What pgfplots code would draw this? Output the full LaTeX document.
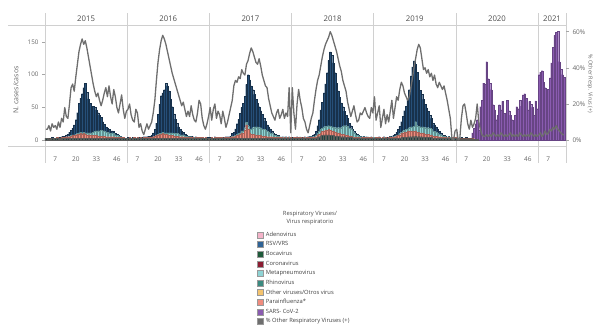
\documentclass[border=0pt]{standalone}
\usepackage{pgfplots}
\pgfplotsset{compat=1.18}
\usepackage{pgfplotstable}
\usepackage{fontspec}
\setmainfont{Open Sans}
\pgfplotsset{/pgf/number format/assume math mode=true}
\definecolor{cAdeno}{HTML}{F4B3C9}
\definecolor{cRSV}{HTML}{2F6396}
\definecolor{cBoca}{HTML}{1E5A3A}
\definecolor{cCorona}{HTML}{8C1C31}
\definecolor{cMeta}{HTML}{8ED3D4}
\definecolor{cRhino}{HTML}{3A8A80}
\definecolor{cOther}{HTML}{F4C36E}
\definecolor{cPara}{HTML}{F08C7E}
\definecolor{cSars}{HTML}{8A5BB0}
\definecolor{cLine}{HTML}{6E6E6E}
\definecolor{cGrid}{HTML}{D0D0D0}
\pgfplotsset{sqleg/.style={legend image code/.code={\draw[##1] (0bp,-3bp) rectangle (6bp,3bp);}}}

\pgfplotstableread{
yr wk rhino para meta rsv sars pct
2015 1 3 0 0 0 0 6
2015 2 3 0 0 0 0 6
2015 3 2 1 0 0 0 8
2015 4 3 0 0 0 0 5
2015 5 3 0 0 1 0 9
2015 6 2 1 0 0 0 7
2015 7 3 0 0 0 0 8
2015 8 3 1 0 0 0 6
2015 9 3 0 0 1 0 10
2015 10 2 1 0 1 0 7
2015 11 3 1 0 1 0 12
2015 12 3 1 0 2 0 10
2015 13 3 1 0 2 0 18
2015 14 3 2 0 3 0 13
2015 15 3 2 0 4 0 12
2015 16 3 2 1 6 0 20
2015 17 3 3 1 8 0 29
2015 18 3 4 1 10 0 31
2015 19 3 4 1 15 0 27
2015 20 3 5 1 22 0 35
2015 21 3 6 1 32 0 42
2015 22 3 6 2 45 0 49
2015 23 3 7 2 52 0 53
2015 24 3 6 2 60 0 56
2015 25 3 7 2 68 0 53
2015 26 3 6 2 76 0 55
2015 27 3 5 3 62 0 51
2015 28 3 5 3 52 0 46
2015 29 3 5 3 45 0 41
2015 30 3 4 4 40 0 36
2015 31 3 4 5 40 0 31
2015 32 3 4 6 37 0 27
2015 33 3 4 7 32 0 24
2015 34 3 3 8 28 0 26
2015 35 3 3 8 24 0 22
2015 36 3 3 9 20 0 19
2015 37 3 3 8 14 0 22
2015 38 3 3 8 10 0 26
2015 39 3 2 7 8 0 29
2015 40 3 2 7 6 0 24
2015 41 3 2 6 5 0 30
2015 42 3 2 5 4 0 24
2015 43 3 2 6 3 0 20
2015 44 3 2 5 3 0 28
2015 45 3 1 4 2 0 24
2015 46 3 1 3 2 0 18
2015 47 3 1 2 1 0 15
2015 48 3 1 1 1 0 20
2015 49 3 1 1 0 0 25
2015 50 3 1 0 0 0 17
2015 51 3 0 0 0 0 12
2015 52 3 0 0 0 0 16
2016 1 3 0 0 1 0 17
2016 2 3 1 0 0 0 20
2016 3 3 0 0 0 0 14
2016 4 3 0 0 1 0 11
2016 5 3 1 0 0 0 10
2016 6 3 0 0 0 0 17
2016 7 3 1 0 0 0 15
2016 8 3 0 0 1 0 7
2016 9 3 1 0 0 0 9
2016 10 3 0 0 1 0 5
2016 11 3 1 0 1 0 3
2016 12 3 1 0 1 0 6
2016 13 3 1 0 1 0 9
2016 14 3 1 0 2 0 6
2016 15 3 1 0 2 0 8
2016 16 3 1 0 3 0 10
2016 17 3 2 0 6 0 15
2016 18 3 3 0 10 0 22
2016 19 3 4 1 18 0 33
2016 20 3 5 1 30 0 43
2016 21 3 6 1 45 0 50
2016 22 3 6 1 58 0 55
2016 23 3 7 2 60 0 58
2016 24 3 6 2 66 0 56
2016 25 3 6 2 76 0 53
2016 26 3 5 3 72 0 49
2016 27 3 5 3 64 0 45
2016 28 3 4 4 52 0 41
2016 29 3 4 4 40 0 37
2016 30 3 3 4 30 0 34
2016 31 3 3 4 22 0 31
2016 32 3 3 4 16 0 28
2016 33 3 2 4 11 0 25
2016 34 3 2 3 8 0 22
2016 35 3 2 3 6 0 19
2016 36 3 2 3 4 0 21
2016 37 3 1 2 3 0 17
2016 38 3 1 2 2 0 13
2016 39 3 1 1 1 0 16
2016 40 3 1 1 1 0 13
2016 41 3 1 1 1 0 19
2016 42 3 1 0 1 0 14
2016 43 3 0 1 0 0 11
2016 44 3 1 0 1 0 10
2016 45 3 0 1 0 0 15
2016 46 3 1 0 0 0 22
2016 47 3 0 0 1 0 20
2016 48 3 1 0 0 0 12
2016 49 3 0 0 0 0 8
2016 50 3 1 0 0 0 6
2016 51 3 0 0 1 0 9
2016 52 3 0 0 0 0 13
2017 1 3 0 0 1 0 18
2017 2 3 1 0 0 0 11
2017 3 3 0 0 0 0 17
2017 4 3 1 0 1 0 20
2017 5 3 0 0 0 0 12
2017 6 3 1 0 0 0 16
2017 7 3 0 0 1 0 14
2017 8 3 1 0 0 0 9
2017 9 3 0 0 1 0 16
2017 10 3 1 0 0 0 12
2017 11 3 1 0 1 0 7
2017 12 3 1 0 1 0 10
2017 13 3 1 0 1 0 14
2017 14 3 1 0 2 0 18
2017 15 3 2 1 4 0 22
2017 16 3 2 1 6 0 30
2017 17 3 3 1 10 0 33
2017 18 3 4 2 16 0 32
2017 19 3 5 2 22 0 35
2017 20 3 6 2 30 0 34
2017 21 3 8 3 36 0 39
2017 22 3 8 3 42 0 37
2017 23 3 12 4 48 0 36
2017 24 3 20 4 58 0 42
2017 25 3 14 5 78 0 44
2017 26 3 8 6 75 0 48
2017 27 3 6 8 66 0 51
2017 28 3 6 10 58 0 49
2017 29 3 5 12 50 0 46
2017 30 3 5 12 42 0 43
2017 31 3 4 13 36 0 42
2017 32 3 4 12 32 0 45
2017 33 3 4 12 26 0 41
2017 34 3 3 11 22 0 36
2017 35 3 3 10 18 0 33
2017 36 3 3 9 14 0 30
2017 37 3 2 8 10 0 29
2017 38 3 2 7 8 0 23
2017 39 3 2 6 6 0 19
2017 40 3 2 5 4 0 15
2017 41 3 1 4 3 0 13
2017 42 3 1 3 2 0 11
2017 43 3 1 2 2 0 15
2017 44 3 1 2 1 0 17
2017 45 3 0 1 1 0 12
2017 46 3 1 1 0 0 14
2017 47 3 0 1 1 0 17
2017 48 3 1 1 0 0 12
2017 49 3 0 1 1 0 15
2017 50 3 1 0 0 0 13
2017 51 3 0 1 1 0 29
2017 52 3 1 0 0 0 4
2018 1 3 0 0 1 0 29
2018 2 3 1 0 0 0 15
2018 3 3 0 1 0 0 6
2018 4 3 1 0 1 0 20
2018 5 3 0 0 0 0 28
2018 6 3 1 1 0 0 22
2018 7 3 0 0 1 0 18
2018 8 3 1 0 0 0 12
2018 9 3 0 1 1 0 10
2018 10 3 1 0 0 0 6
2018 11 3 1 0 1 0 4
2018 12 3 1 1 1 0 8
2018 13 3 1 1 1 0 12
2018 14 3 1 1 2 0 15
2018 15 3 1 1 4 0 22
2018 16 3 2 2 6 0 28
2018 17 4 3 3 12 0 33
2018 18 5 4 4 18 0 36
2018 19 6 5 5 30 0 41
2018 20 7 6 5 40 0 46
2018 21 8 6 6 52 0 50
2018 22 8 7 6 65 0 53
2018 23 8 7 6 82 0 55
2018 24 8 8 6 100 0 57
2018 25 7 8 6 114 0 60
2018 26 7 7 6 110 0 58
2018 27 7 6 7 98 0 55
2018 28 6 6 7 84 0 52
2018 29 6 5 8 68 0 49
2018 30 6 5 8 56 0 45
2018 31 5 5 9 46 0 41
2018 32 5 4 10 38 0 38
2018 33 5 4 12 30 0 33
2018 34 5 3 14 22 0 30
2018 35 4 3 15 16 0 27
2018 36 4 3 14 12 0 21
2018 37 4 2 12 8 0 17
2018 38 4 2 10 6 0 13
2018 39 3 2 8 4 0 16
2018 40 3 1 6 3 0 19
2018 41 3 1 4 2 0 14
2018 42 3 1 3 2 0 10
2018 43 3 1 2 1 0 11
2018 44 3 0 2 1 0 15
2018 45 3 1 1 0 0 14
2018 46 3 0 2 1 0 16
2018 47 3 1 1 0 0 18
2018 48 3 0 1 1 0 15
2018 49 3 1 1 0 0 13
2018 50 3 0 1 0 0 12
2018 51 3 1 0 1 0 18
2018 52 3 0 1 0 0 15
2019 1 3 0 0 1 0 24
2019 2 3 1 0 0 0 11
2019 3 3 0 1 0 0 15
2019 4 3 1 0 1 0 19
2019 5 3 0 0 0 0 7
2019 6 3 1 0 0 0 12
2019 7 3 0 1 1 0 17
2019 8 3 1 0 0 0 9
2019 9 3 0 0 1 0 14
2019 10 3 1 0 0 0 10
2019 11 3 1 1 1 0 16
2019 12 3 1 0 1 0 22
2019 13 3 1 1 2 0 12
2019 14 3 2 1 3 0 18
2019 15 3 3 1 5 0 24
2019 16 3 4 1 8 0 22
2019 17 3 5 2 11 0 28
2019 18 4 6 2 16 0 32
2019 19 4 7 3 22 0 30
2019 20 4 8 3 30 0 26
2019 21 4 8 4 36 0 24
2019 22 4 9 4 45 0 22
2019 23 5 9 5 58 0 24
2019 24 5 9 6 78 0 29
2019 25 5 8 7 92 0 34
2019 26 5 8 8 100 0 40
2019 27 6 8 14 88 0 45
2019 28 5 7 10 82 0 50
2019 29 5 7 9 70 0 53
2019 30 5 6 9 56 0 51
2019 31 5 6 9 50 0 45
2019 32 4 6 10 42 0 39
2019 33 4 5 10 36 0 40
2019 34 4 5 10 30 0 37
2019 35 4 5 10 25 0 39
2019 36 4 4 10 20 0 35
2019 37 4 4 9 16 0 37
2019 38 3 3 8 12 0 33
2019 39 3 3 7 10 0 36
2019 40 3 3 6 8 0 31
2019 41 3 2 5 6 0 29
2019 42 3 2 4 4 0 32
2019 43 3 2 3 3 0 30
2019 44 3 1 2 2 0 28
2019 45 3 1 2 1 0 30
2019 46 3 1 1 1 0 26
2019 47 3 0 1 0 0 22
2019 48 3 1 1 1 0 17
2019 49 3 0 1 0 0 12
2019 50 3 1 0 0 0 1
2019 51 3 0 1 0 0 0
2019 52 3 1 0 0 0 5
2020 1 2 1 0 0 0 6
2020 2 2 1 0 0 0 0
2020 3 2 1 0 0 0 1
2020 4 2 1 0 1 0 12
2020 5 2 1 0 0 0 19
2020 6 2 1 0 0 0 20
2020 7 2 1 0 1 0 15
2020 8 2 1 0 0 0 9
2020 9 2 1 0 0 0 6
2020 10 2 1 0 0 0 11
2020 11 2 1 0 0 8 7
2020 12 1 1 0 0 16 9
2020 13 1 0 0 0 24 12
2020 14 1 0 0 0 30 20
2020 15 0 0 0 0 15 10
2020 16 0 0 0 0 51 6
2020 17 0 0 0 0 61 3
2020 18 0 0 0 0 87 2
2020 19 0 0 0 0 85 2
2020 20 0 0 0 0 120 3
2020 21 0 0 0 0 94 2
2020 22 0 0 0 0 87 3
2020 23 0 0 0 0 77 2
2020 24 0 0 0 0 54 4
2020 25 0 0 0 0 46 3
2020 26 0 0 0 0 31 2
2020 27 0 0 0 0 38 3
2020 28 0 0 0 0 54 2
2020 29 0 0 0 0 46 4
2020 30 0 0 0 0 59 3
2020 31 0 0 0 0 41 2
2020 32 0 0 0 0 36 3
2020 33 0 0 0 0 61 2
2020 34 0 0 0 0 45 3
2020 35 0 0 0 0 38 4
2020 36 0 0 0 0 31 2
2020 37 0 0 0 0 26 3
2020 38 0 0 0 0 38 2
2020 39 0 0 0 0 51 3
2020 40 0 0 0 0 48 2
2020 41 0 0 0 0 61 4
2020 42 0 0 0 0 52 3
2020 43 0 0 0 0 69 2
2020 44 0 0 0 0 71 3
2020 45 0 0 0 0 64 2
2020 46 0 0 0 0 46 3
2020 47 0 0 0 0 59 2
2020 48 0 0 0 0 55 4
2020 49 0 0 0 0 50 3
2020 50 0 0 0 0 38 2
2020 51 0 0 0 0 60 3
2020 52 0 0 0 0 48 2
2021 1 0 0 0 0 100 3
2021 2 0 0 0 0 104 4
2021 3 0 0 0 0 106 2
2021 4 0 0 0 0 88 3
2021 5 0 0 0 0 80 5
2021 6 0 0 0 0 62 3
2021 7 0 0 0 0 78 4
2021 8 0 0 0 0 95 6
2021 9 0 0 0 0 118 5
2021 10 0 0 0 0 142 7
2021 11 0 0 0 0 160 6
2021 12 0 0 0 0 165 8
2021 13 0 0 0 0 166 6
2021 14 0 0 0 0 120 5
2021 15 0 0 0 0 108 4
2021 16 0 0 0 0 100 3
2021 17 0 0 0 0 96 3
}\data

\begin{document}
\begin{tikzpicture}[x=1bp,y=1bp]
\path[use as bounding box] (-45,-178) rectangle (550,146);
\begin{axis}[
  at={(0,0)}, anchor=south west, scale only axis,
  width=521bp, height=121bp,
  xmin=0, xmax=329.7, ymin=-9.2, ymax=176,
  clip=false,
  ybar stacked, bar width=1.58bp,
  axis line style={draw=none},
  xtick={6.5,19.5,32.5,45.5,58.5,71.5,84.5,97.5,110.5,123.5,136.5,149.5,162.5,175.5,188.5,201.5,214.5,227.5,240.5,253.5,266.5,279.5,292.5,305.5,318.5},
  xticklabels={7,20,33,46,7,20,33,46,7,20,33,46,7,20,33,46,7,20,33,46,7,20,33,46,7},
  xtick style={draw=none},
  xticklabel style={font=\fontsize{6.5}{7}\selectfont, text=black!60, yshift=-4bp},
  ytick={0,50,100,150},
  ytick pos=left,
  ytick style={draw=black!35, line width=0.5bp},
  major tick length=3bp, tick align=outside,
  yticklabel style={font=\fontsize{6.3}{7}\selectfont, text=black!60},
  legend style={at={(0.401,-0.678)}, anchor=north west, draw=none, fill=none,
    font=\fontsize{5.8}{6}\selectfont, text=black!75, row sep=0pt, column sep=1bp,
    nodes={inner ysep=0pt, inner xsep=1.5bp, minimum height=9.6bp}},
  legend cell align=left,
]
\addlegendimage{sqleg, fill=cAdeno, draw=black!40, line width=0.3bp}
\addlegendentry{Adenovirus}
\addlegendimage{sqleg, fill=cRSV, draw=black!40, line width=0.3bp}
\addlegendentry{RSV/VRS}
\addlegendimage{sqleg, fill=cBoca, draw=black!40, line width=0.3bp}
\addlegendentry{Bocavirus}
\addlegendimage{sqleg, fill=cCorona, draw=black!40, line width=0.3bp}
\addlegendentry{Coronavirus}
\addlegendimage{sqleg, fill=cMeta, draw=black!40, line width=0.3bp}
\addlegendentry{Metapneumovirus}
\addlegendimage{sqleg, fill=cRhino, draw=black!40, line width=0.3bp}
\addlegendentry{Rhinovirus}
\addlegendimage{sqleg, fill=cOther, draw=black!40, line width=0.3bp}
\addlegendentry{Other viruses/Otros virus}
\addlegendimage{sqleg, fill=cPara, draw=black!40, line width=0.3bp}
\addlegendentry{Parainfluenza*}
\addlegendimage{sqleg, fill=cSars, draw=black!40, line width=0.3bp}
\addlegendentry{SARS- CoV-2}
\addlegendimage{sqleg, fill=cLine, draw=black!40, line width=0.3bp}
\addlegendentry{\% Other Respiratory Viruses (+)}

\addplot[forget plot, fill=cRhino!50!black, draw=black!65, line width=0.1bp] table[x expr=52*(\thisrow{yr}-2015)+\thisrow{wk}-0.5, y=rhino]{\data};
\addplot[forget plot, fill=cPara, draw=cPara!70!black, line width=0.1bp] table[x expr=52*(\thisrow{yr}-2015)+\thisrow{wk}-0.5, y=para]{\data};
\addplot[forget plot, fill=cMeta, draw=cMeta!70!black, line width=0.1bp] table[x expr=52*(\thisrow{yr}-2015)+\thisrow{wk}-0.5, y=meta]{\data};
\addplot[forget plot, fill=cRSV!80!black, draw=cRSV!50!black, line width=0.1bp] table[x expr=52*(\thisrow{yr}-2015)+\thisrow{wk}-0.5, y=rsv]{\data};
\addplot[forget plot, fill=cSars, draw=cSars!75!black, line width=0.1bp] table[x expr=52*(\thisrow{yr}-2015)+\thisrow{wk}-0.5, y=sars]{\data};

\pgfplotsinvokeforeach{0,52,104,156,208,260,312,329.7}{
  \draw[cGrid, line width=0.7bp] (axis cs:#1,-35) -- (axis cs:#1,194.5);
}
\draw[cGrid, line width=0.7bp] (axis cs:-23.4,176) -- (axis cs:329.7,176);
\draw[cGrid, line width=0.7bp] (axis cs:-23.4,-9.2) -- (axis cs:329.7,-9.2);
\node[font=\fontsize{7.8}{8}\selectfont, text=black!70] at (axis cs:26,185.3) {2015};
\node[font=\fontsize{7.8}{8}\selectfont, text=black!70] at (axis cs:78,185.3) {2016};
\node[font=\fontsize{7.8}{8}\selectfont, text=black!70] at (axis cs:130,185.3) {2017};
\node[font=\fontsize{7.8}{8}\selectfont, text=black!70] at (axis cs:182,185.3) {2018};
\node[font=\fontsize{7.8}{8}\selectfont, text=black!70] at (axis cs:234,185.3) {2019};
\node[font=\fontsize{7.8}{8}\selectfont, text=black!70] at (axis cs:286,185.3) {2020};
\node[font=\fontsize{7.8}{8}\selectfont, text=black!70] at (axis cs:320.85,185.3) {2021};
\end{axis}

\begin{axis}[
  at={(0,0)}, anchor=south west, scale only axis,
  width=521bp, height=121bp,
  xmin=0, xmax=329.7, ymin=-3.3, ymax=63.7,
  axis x line=none, axis y line*=right,
  axis line style={draw=none},
  ytick={0,20,40,60},
  yticklabel={\pgfmathprintnumber[assume math mode=true]{\tick}\%},
  ytick style={draw=black!35, line width=0.5bp},
  major tick length=3bp, tick align=outside,
  yticklabel style={font=\fontsize{6.5}{7}\selectfont, text=black!60},
]
\addplot[color=cLine, line width=1.3bp, line join=round, mark=none] table[x expr=52*(\thisrow{yr}-2015)+\thisrow{wk}-0.5, y=pct]{\data};
\end{axis}

\node[rotate=90, font=\fontsize{7}{8}\selectfont, text=black!60] at (-29,56) {N. cases/casos};
\node[rotate=-90, font=\fontsize{5.5}{6}\selectfont, text=black!60] at (545,62) {\% Other Resp. Virus (+)};
\node[align=center, font=\fontsize{5.8}{7.6}\selectfont, text=black!70] at (265,-72) {Respiratory Viruses/\\Virus respiratorio};
\end{tikzpicture}
\end{document}
